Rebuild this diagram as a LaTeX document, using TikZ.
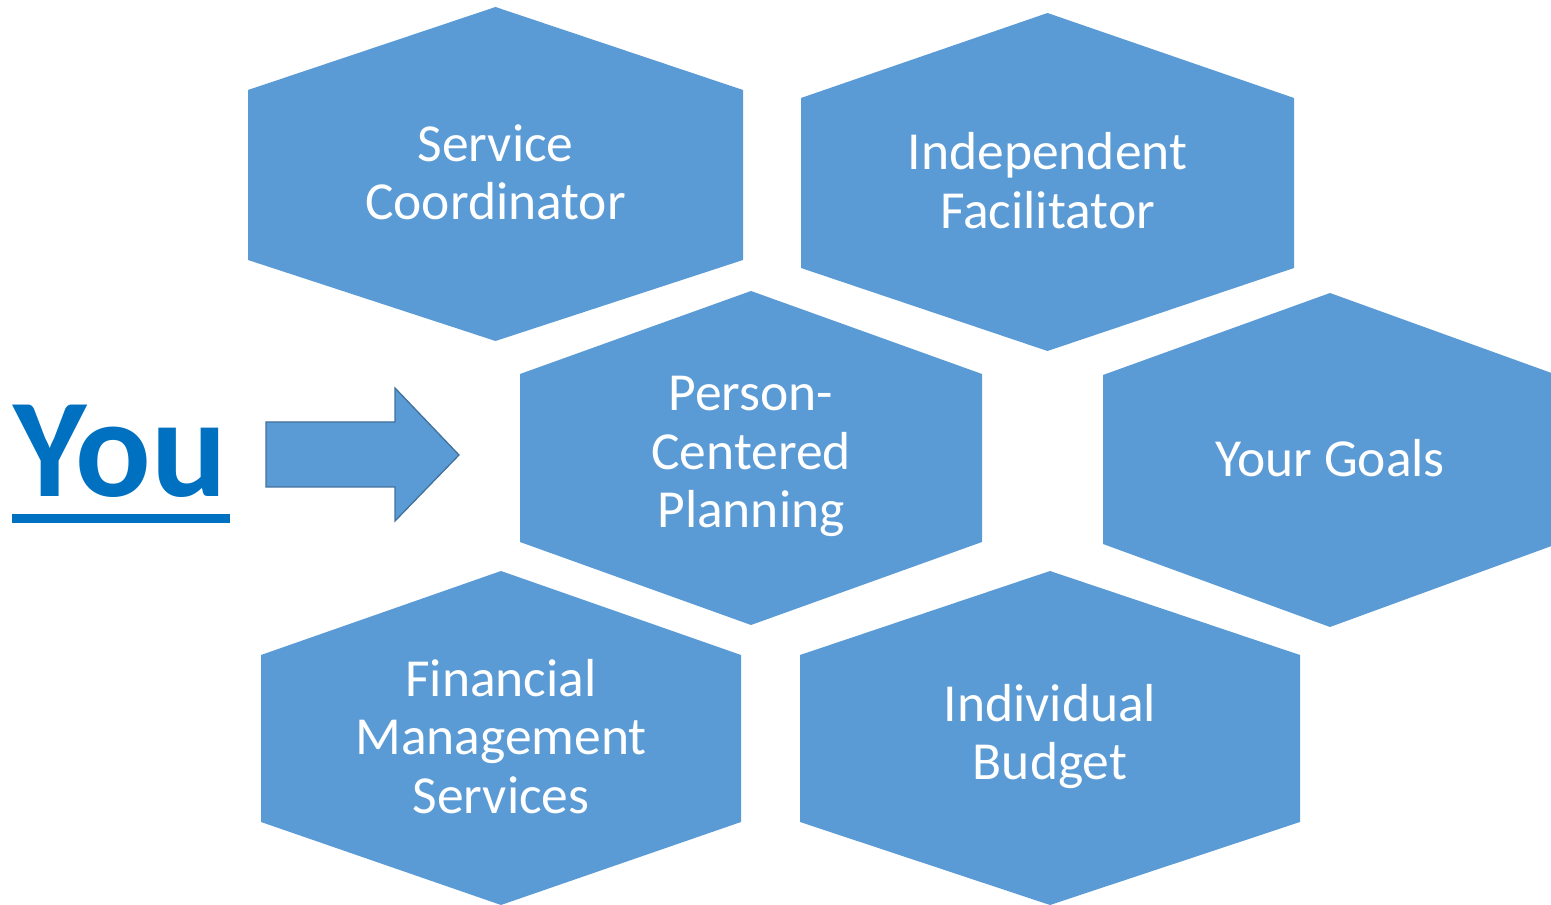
\documentclass[tikz,border=0pt]{standalone}
\usepackage{fontspec}
\setmainfont{Carlito}
\definecolor{hexblue}{HTML}{5B9BD5}
\definecolor{youblue}{HTML}{0070C0}
\definecolor{arrowline}{HTML}{41719C}
\tikzset{
  hexfill/.style={fill=hexblue, draw=none},
  hextext/.style={text=white, align=center, inner sep=0pt, font=\fontsize{53.5}{58.5}\selectfont},
  blockarrow/.style={fill=hexblue, draw=arrowline, line width=1.3pt, line join=miter}
}
% #1 name, #2 left x, #3 right x, #4 top y, #5 side top y, #6 side bottom y, #7 bottom y, #8 text  (image pixel coords, y down)
\newcommand{\hexcell}[8]{%
  \path[hexfill] ({#2pt},{(905-#5)*1pt}) -- ({((#2+#3)/2)*1pt},{(905-#4)*1pt}) -- ({#3pt},{(905-#5)*1pt})
     -- ({#3pt},{(905-#6)*1pt}) -- ({((#2+#3)/2)*1pt},{(905-#7)*1pt}) -- ({#2pt},{(905-#6)*1pt}) -- cycle;
  \node[hextext] (#1) at ({((#2+#3)/2)*1pt},{(905-(#4+#7)/2+1.5)*1pt}) {#8};
}
\begin{document}
\begin{tikzpicture}[x=1pt,y=1pt]
\useasboundingbox (0,0) rectangle (1551,905);
\hexcell{sc}{248}{743}{7}{90}{260}{341}{Service\\Coordinator}
\hexcell{indf}{801}{1294}{13}{98}{268}{351}{Independent\\Facilitator}
\hexcell{pcp}{520}{982}{291}{374}{542}{625}{Person-\\Centered\\Planning}
\hexcell{goals}{1103}{1557}{293}{375}{544}{627}{Your Goals}
\hexcell{fms}{261}{741}{571}{655}{822}{905}{Financial\\Management\\Services}
\hexcell{ib}{800}{1300}{571}{655}{822}{905}{Individual\\Budget}
% You
\node[anchor=base west, inner sep=0pt, text=youblue, font=\fontsize{141}{141}\selectfont\bfseries] (you) at (13,408) {You};
\fill[youblue] (12,382) rectangle (230,391);
% block arrow
\draw[blockarrow] (266,483) -- (395,483) -- (395,517) -- (459,450) -- (395,384) -- (395,418) -- (266,418) -- cycle;
\end{tikzpicture}
\end{document}
